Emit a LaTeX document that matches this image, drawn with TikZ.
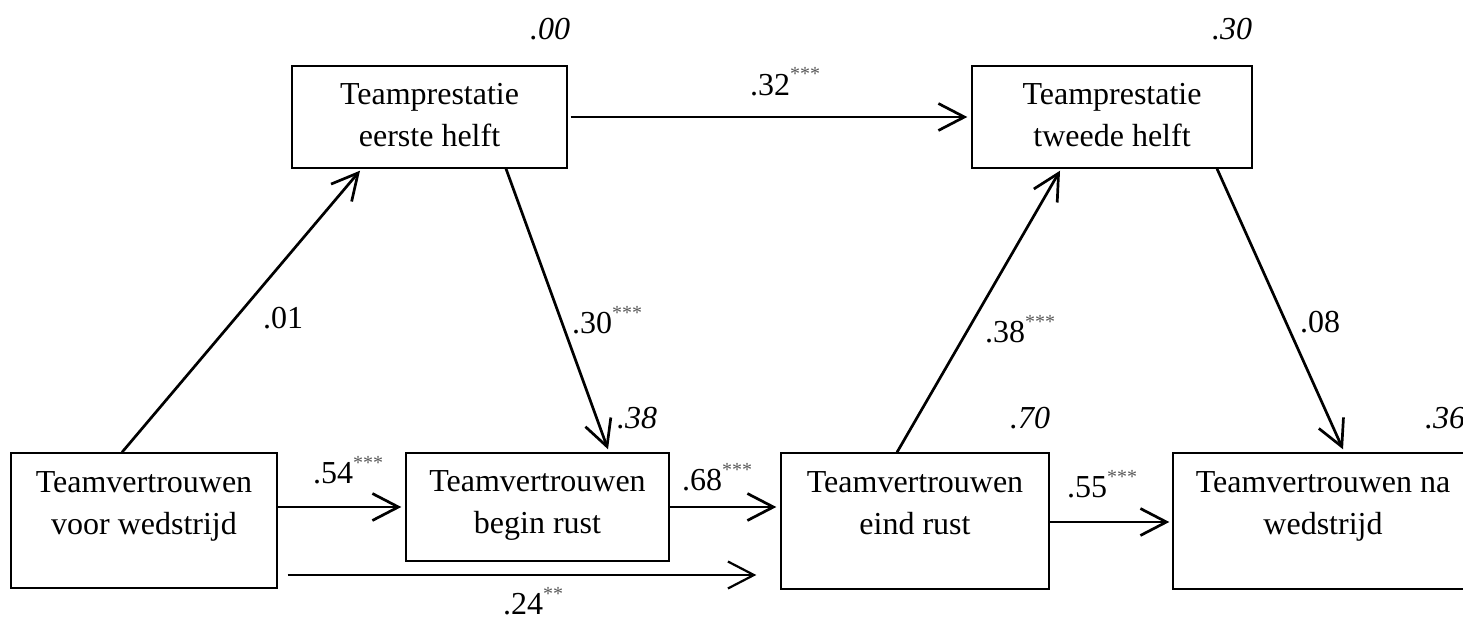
\documentclass[tikz,border=0pt]{standalone}
\usepackage{fontspec}
\setmainfont{Liberation Serif}
\usetikzlibrary{arrows.meta}
\newcommand{\sigstars}[1]{\raisebox{14pt}{\textcolor{black!65}{\fontsize{20}{20}\selectfont #1}}}
\begin{document}
\begin{tikzpicture}[x=1pt,y=-1pt,
  box/.style={draw=black, line width=1.4pt, inner sep=0pt, fill=white},
  boxtext/.style={align=center, inner sep=0pt, anchor=base, font=\fontsize{32}{42}\selectfont},
  lab/.style={inner sep=0pt, anchor=base west, font=\fontsize{32}{38}\selectfont},
  rsq/.style={lab, font=\fontsize{32}{38}\selectfont\itshape},
  path/.style={line width=2.7pt, -{Straight Barb[length=26pt,width=27pt]}},
  thinpath/.style={line width=2.2pt, -{Straight Barb[length=26pt,width=27pt]}}]
\useasboundingbox (0,0) rectangle (1463,618);
\clip (0,0) rectangle (1463,618);
% boxes
\node[box, minimum width=266pt, minimum height=135pt] (A) at (144,520.5) {};
\node[box, minimum width=263pt, minimum height=108pt] (B) at (537.5,507) {};
\node[box, minimum width=275pt, minimum height=102pt] (C) at (429.5,117) {};
\node[box, minimum width=280pt, minimum height=102pt] (D) at (1112,117) {};
\node[box, minimum width=268pt, minimum height=136pt] (E) at (915,521) {};
\node[box, minimum width=300pt, minimum height=136pt] (F) at (1323,521) {};
% box texts (base anchor = last line baseline)
\node[boxtext] (At) at ([yshift=-82pt]A.north) {Teamvertrouwen\\voor wedstrijd};
\node[boxtext] (Bt) at ([yshift=-81pt]B.north) {Teamvertrouwen\\begin rust};
\node[boxtext] (Ct) at ([yshift=-81pt]C.north) {Teamprestatie\\eerste helft};
\node[boxtext] (Dt) at ([yshift=-81pt]D.north) {Teamprestatie\\tweede helft};
\node[boxtext] (Et) at ([yshift=-82pt]E.north) {Teamvertrouwen\\eind rust};
\node[boxtext] (Ft) at ([yshift=-82pt]F.north) {Teamvertrouwen na\\wedstrijd};
% connectors
\draw[path] ([xshift=-22pt]A.north) -- ([xshift=-69.5pt,yshift=-2pt]C.south);
\draw[path] ([xshift=76.5pt]C.south) -- ([xshift=70.5pt,yshift=3pt]B.north);
\draw[path] ([xshift=3pt]C.east) -- ([xshift=-4pt]D.west);
\draw[path] ([yshift=13.5pt]A.east) -- ([xshift=-4pt]B.west);
\draw[path] (B.east) -- ([xshift=-4pt,yshift=14pt]E.west);
\draw[thinpath] ([xshift=10pt,yshift=-54.5pt]A.east) -- ([xshift=-24pt,yshift=-54pt]E.west);
\draw[path] ([xshift=-18pt]E.north) -- ([xshift=-52pt,yshift=-2pt]D.south);
\draw[path] ([yshift=-1pt]E.east) -- ([xshift=-3pt,yshift=-1pt]F.west);
\draw[path] ([xshift=105pt]D.south) -- ([xshift=20pt,yshift=3pt]F.north);
% path coefficients
\node[lab] (l01) at (263,328) {.01};
\node[lab] (l30) at (572,333) {.30\sigstars{***}};
\node[lab] (l38) at (985,342) {.38\sigstars{***}};
\node[lab] (l08) at (1300,332) {.08};
\node[lab] (l32) at (750,95) {.32\sigstars{***}};
\node[lab] (l54) at (313,483) {.54\sigstars{***}};
\node[lab] (l68) at (682,490) {.68\sigstars{***}};
\node[lab] (l55) at (1067,497) {.55\sigstars{***}};
\node[lab] (l24) at (503,614) {.24\sigstars{**}};
% explained variance
\node[rsq] (r00) at (530,40) {.00};
\node[rsq] (r30) at (1212,40) {.30};
\node[rsq] (r38) at (617,428) {.38};
\node[rsq] (r70) at (1010,428) {.70};
\node[rsq] (r36) at (1425,428) {.36};
\end{tikzpicture}
\end{document}
